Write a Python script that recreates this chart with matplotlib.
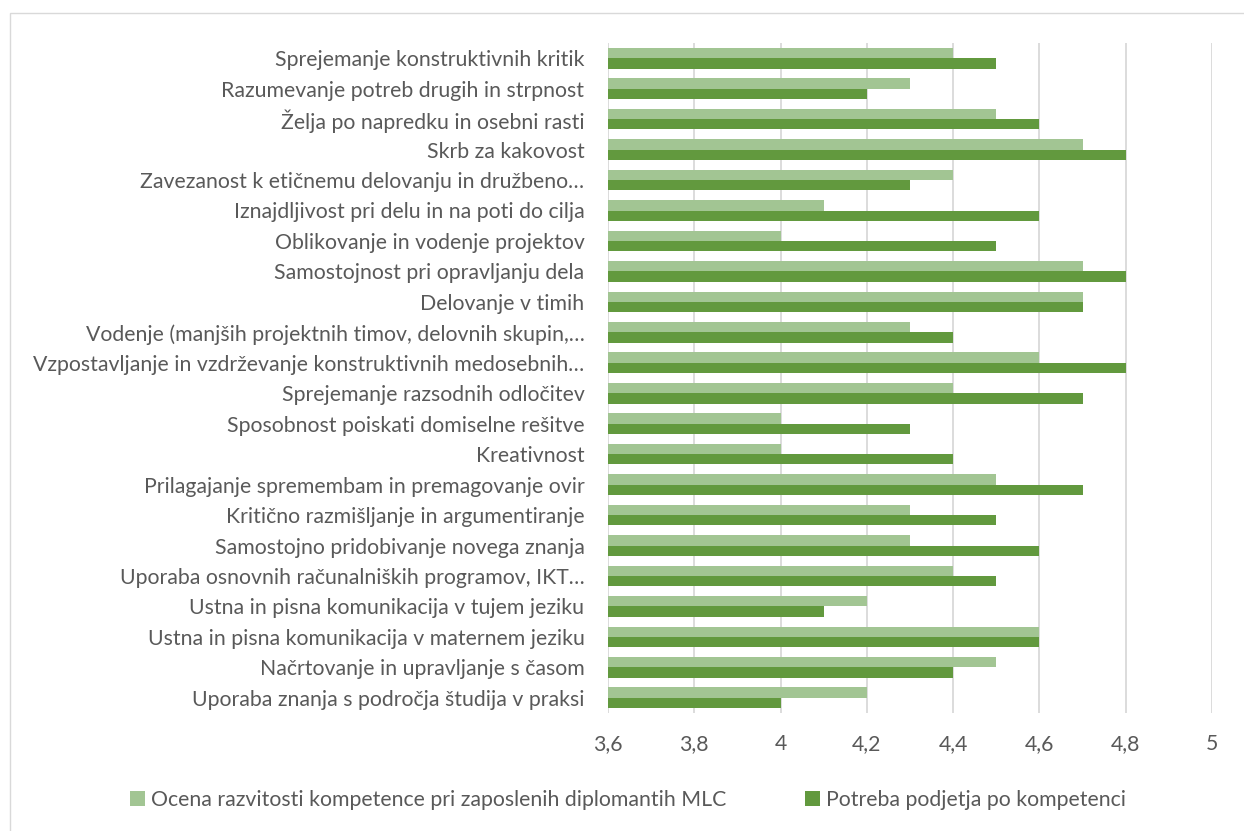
import matplotlib.pyplot as plt
import matplotlib.patches as mpatches
import numpy as np

plt.rcParams['font.family'] = ['Lato', 'DejaVu Sans']

categories = [
    "Sprejemanje konstruktivnih kritik",
    "Razumevanje potreb drugih in strpnost",
    "Želja po napredku in osebni rasti",
    "Skrb za kakovost",
    "Zavezanost k etičnemu delovanju in družbeno…",
    "Iznajdljivost pri delu in na poti do cilja",
    "Oblikovanje in vodenje projektov",
    "Samostojnost pri opravljanju dela",
    "Delovanje v timih",
    "Vodenje (manjših projektnih timov, delovnih skupin,…",
    "Vzpostavljanje in vzdrževanje konstruktivnih medosebnih…",
    "Sprejemanje razsodnih odločitev",
    "Sposobnost poiskati domiselne rešitve",
    "Kreativnost",
    "Prilagajanje spremembam in premagovanje ovir",
    "Kritično razmišljanje in argumentiranje",
    "Samostojno pridobivanje novega znanja",
    "Uporaba osnovnih računalniških programov, IKT…",
    "Ustna in pisna komunikacija v tujem jeziku",
    "Ustna in pisna komunikacija v maternem jeziku",
    "Načrtovanje in upravljanje s časom",
    "Uporaba znanja s področja študija v praksi",
]
ocena = [4.4, 4.3, 4.5, 4.7, 4.4, 4.1, 4.0, 4.7, 4.7, 4.3, 4.6,
         4.4, 4.0, 4.0, 4.5, 4.3, 4.3, 4.4, 4.2, 4.6, 4.5, 4.2]
potreba = [4.5, 4.2, 4.6, 4.8, 4.3, 4.6, 4.5, 4.8, 4.7, 4.4, 4.8,
           4.7, 4.3, 4.4, 4.7, 4.5, 4.6, 4.5, 4.1, 4.6, 4.4, 4.0]
xticks = [3.6, 3.8, 4.0, 4.2, 4.4, 4.6, 4.8, 5.0]
xticklabels = ["3,6", "3,8", "4", "4,2", "4,4", "4,6", "4,8", "5"]
series_names = ["Ocena razvitosti kompetence pri zaposlenih diplomantih MLC",
                "Potreba podjetja po kompetenci"]

light = '#A2C593'
dark = '#62993E'
txt = '#595959'

fig = plt.figure(figsize=(12.44, 8.31), dpi=100)
ax = fig.add_axes([608/1244, 1-713/831, (1212-608)/1244, (713-43)/831])

y = np.arange(len(categories))
h = 0.34
ax.barh(y - h/2, np.array(ocena) - 3.6, left=3.6, height=h, color=light, label=series_names[0])
ax.barh(y + h/2, np.array(potreba) - 3.6, left=3.6, height=h, color=dark, label=series_names[1])

ax.set_xlim(3.6, 5.0)
ax.set_ylim(len(categories) - 0.5, -0.5)
ax.set_xticks(xticks)
ax.set_xticklabels(xticklabels)
ax.set_yticks(y)
ax.set_yticklabels(categories)
ax.tick_params(axis='both', length=0, labelsize=15.3, colors=txt)
ax.tick_params(axis='x', pad=15)
ax.tick_params(axis='y', pad=17)
ax.grid(axis='x', color='#D9D9D9', linewidth=1.3)
ax.set_axisbelow(True)
for s in ax.spines.values():
    s.set_visible(False)

# chart border
fig.patches.append(mpatches.Rectangle((10/1244, -0.01), 1.0, 1 - 13/831 + 0.01,
                                      transform=fig.transFigure, fill=False,
                                      edgecolor='#D9D9D9', linewidth=1))

fig.legend(loc='center', bbox_to_anchor=(0.505, 1 - 800/831), ncol=2, frameon=False,
           fontsize=15.3, labelcolor=txt, handlelength=0.7, handleheight=0.7,
           handletextpad=0.3, columnspacing=3.7)

fig.savefig('out.png', dpi=100)
